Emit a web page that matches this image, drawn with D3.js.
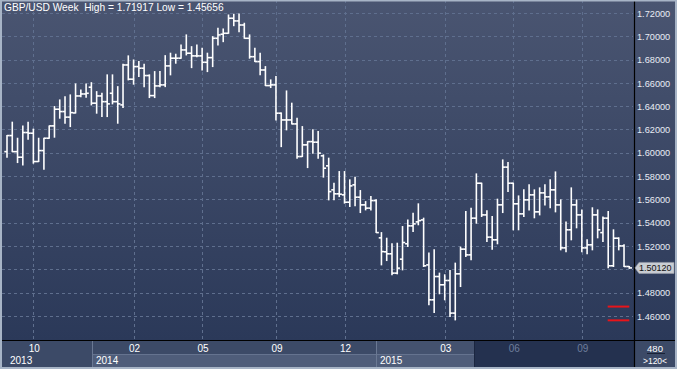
<!DOCTYPE html>
<html><head><meta charset="utf-8">
<script src="https://cdn.jsdelivr.net/npm/d3@7"></script>
<style>body{margin:0;background:#fff}svg{display:block}</style>
</head><body>
<svg id="c" width="677" height="369"></svg>
<script>
const opens=[1.6010,1.6148,1.6010,1.5962,1.6174,1.6168,1.5925,1.6019,1.6125,1.6231,
1.6374,1.6354,1.6306,1.6342,1.6488,1.6505,1.6563,1.6426,1.6488,1.6439,
1.6511,1.6439,1.6411,1.6754,1.6632,1.6740,1.6726,1.6663,1.6491,1.6574,
1.6583,1.6746,1.6812,1.6812,1.6883,1.6855,1.6832,1.6832,1.6777,1.6817,
1.6983,1.7018,1.7026,1.7155,1.7132,1.7097,1.6983,1.6825,1.6783,1.6711,
1.6577,1.6583,1.6340,1.6282,1.6282,1.6248,1.5968,1.6068,1.6096,1.6091,
1.5974,1.5888,1.5682,1.5648,1.5639,1.5576,1.5725,1.5619,1.5553,1.5525,
1.5590,1.5270,1.5150,1.5133,1.4967,1.5087,1.5219,1.5373,1.5407,1.5424,
1.5038,1.4738,1.4938,1.4867,1.4904,1.4624,1.4961,1.5173,1.5124,1.5439,
1.5739,1.5467,1.5276,1.5253,1.5553,1.5877,1.5739,1.5562,1.5476,1.5596,
1.5639,1.5493,1.5656,1.5622,1.5682,1.5553,1.5184,1.5339,1.5553,1.5467,
1.5184,1.5210,1.5467,1.5315,1.5439,1.5030,1.5267,1.5201,1.5024];
const highs=[1.6148,1.6263,1.6125,1.6231,1.6263,1.6203,1.6125,1.6125,1.6231,1.6397,
1.6454,1.6482,1.6497,1.6591,1.6540,1.6591,1.6602,1.6525,1.6511,1.6669,
1.6669,1.6568,1.6760,1.6832,1.6797,1.6783,1.6760,1.6669,1.6697,1.6697,
1.6834,1.6855,1.6846,1.6926,1.7012,1.6911,1.6926,1.6898,1.6855,1.6997,
1.7069,1.7063,1.7183,1.7189,1.71917,1.7112,1.7012,1.6898,1.6855,1.6740,
1.6626,1.6654,1.6342,1.6531,1.6426,1.6297,1.6225,1.6096,1.6197,1.6182,
1.5982,1.5954,1.5739,1.5839,1.5839,1.5768,1.5791,1.5676,1.5581,1.5624,
1.5596,1.5315,1.5267,1.5219,1.5224,1.5367,1.5424,1.5482,1.5562,1.5439,
1.5139,1.5167,1.4967,1.4953,1.4989,1.5053,1.5190,1.5496,1.5525,1.5819,
1.5739,1.5502,1.5453,1.5602,1.5939,1.5916,1.5739,1.5630,1.5682,1.5725,
1.5682,1.5699,1.5725,1.5768,1.5836,1.5596,1.5407,1.5699,1.5596,1.5510,
1.5253,1.5528,1.5510,1.5450,1.5496,1.5339,1.5270,1.5210,1.5024];
const lows=[1.5962,1.6010,1.5916,1.5896,1.6117,1.5911,1.5925,1.5859,1.6125,1.6134,
1.6297,1.6254,1.6225,1.6342,1.6482,1.6477,1.6411,1.6340,1.6311,1.6311,
1.6420,1.6254,1.6388,1.6626,1.6589,1.6654,1.6568,1.6474,1.6474,1.6568,
1.6568,1.6669,1.6769,1.6812,1.6840,1.6731,1.6825,1.6711,1.6697,1.6740,
1.6926,1.6954,1.7026,1.7091,1.7040,1.6983,1.6812,1.6783,1.6669,1.6577,
1.6560,1.6282,1.6053,1.6197,1.6248,1.5954,1.5968,1.5873,1.5997,1.5954,
1.5791,1.5596,1.5596,1.5624,1.5568,1.5539,1.5545,1.5487,1.5510,1.5510,
1.5315,1.5038,1.5075,1.4953,1.4961,1.4995,1.5195,1.5324,1.5382,1.5024,
1.4695,1.4629,1.4790,1.4738,1.4595,1.45656,1.4852,1.5110,1.5081,1.5396,
1.5453,1.5238,1.5173,1.5219,1.5487,1.5667,1.5339,1.5339,1.5453,1.5510,
1.5442,1.5467,1.5553,1.5528,1.5493,1.5167,1.5150,1.5253,1.5356,1.5150,
1.5133,1.5167,1.5270,1.5238,1.5013,1.5024,1.5167,1.5024,1.5008];
const closes=[1.6148,1.6010,1.5962,1.6174,1.6168,1.5925,1.6019,1.6125,1.6231,1.6374,
1.6354,1.6306,1.6345,1.6488,1.6505,1.6511,1.6426,1.6488,1.6439,1.6420,
1.6439,1.6420,1.6754,1.6632,1.6740,1.6726,1.6663,1.6491,1.6574,1.6583,
1.6746,1.6812,1.6812,1.6883,1.6855,1.6832,1.6832,1.6777,1.6817,1.6983,
1.7012,1.7026,1.7155,1.7132,1.7097,1.6983,1.6825,1.6783,1.6711,1.6577,
1.6583,1.6340,1.6282,1.6282,1.6248,1.5968,1.6068,1.6096,1.6091,1.5997,
1.5868,1.5667,1.5648,1.5645,1.5576,1.5716,1.5619,1.5553,1.5525,1.5590,
1.5315,1.5152,1.5133,1.4967,1.5010,1.5230,1.5373,1.5390,1.5418,1.5030,
1.4738,1.4938,1.4867,1.4904,1.4624,1.4961,1.5173,1.5124,1.5439,1.5739,
1.5467,1.5276,1.5253,1.5553,1.5877,1.5739,1.5562,1.5476,1.5596,1.5639,
1.5493,1.5656,1.5622,1.5682,1.5553,1.5184,1.5339,1.5553,1.5467,1.5184,
1.5210,1.5467,1.5339,1.5439,1.5030,1.5267,1.5201,1.5024,1.5012];
const priceTicks=[1.46,1.48,1.50,1.52,1.54,1.56,1.58,1.60,1.62,1.64,1.66,1.68,1.70,1.72];
const monthTickIdx=[5,24,37,51,64,83,96,109];
const monthLabels=["10","02","05","09","12","03","06","09"];
const yearLabels=["2013","2014","2015"];
const yearStartIdx=[-1.2,16.1,70];
const darkFromIdx=88.5;
const redLevels=[1.4680,1.4562];
const titleText="GBP/USD Week  High = 1.71917 Low = 1.45656";
const lastPrice=closes[closes.length-1];

const N=closes.length;
const svg=d3.select("#c");
const W=677,H=369,plotR=634,plotB=340;
const x=d3.scaleLinear().domain([0,N-1]).range([7,629.3]);
const y=d3.scaleLinear().domain([1.46,1.72]).range([315.9,13]);

const defs=svg.append("defs");
const g=defs.append("linearGradient").attr("id","bg").attr("x1",0).attr("y1",0).attr("x2",0).attr("y2",1);
g.append("stop").attr("offset","0%").attr("stop-color","#4a5571");
g.append("stop").attr("offset","100%").attr("stop-color","#2b3959");

svg.append("rect").attr("width",W).attr("height",H).attr("fill","#3c4a67");
svg.append("rect").attr("x",0).attr("y",0).attr("width",W).attr("height",plotB).attr("fill","url(#bg)");

// grid
const grid=svg.append("g").attr("stroke","#5f6f8e").attr("stroke-width",1).attr("stroke-dasharray","3,3");
grid.selectAll("line.h").data(priceTicks).join("line").attr("class","h")
 .attr("x1",2).attr("x2",plotR-1).attr("y1",d=>Math.round(y(d))+0.5).attr("y2",d=>Math.round(y(d))+0.5);
grid.selectAll("line.v").data(monthTickIdx).join("line").attr("class","v")
 .attr("x1",d=>Math.round(x(d))+0.5).attr("x2",d=>Math.round(x(d))+0.5).attr("y1",0).attr("y2",plotB);

// OHLC bars
const tw=2.7;
const bars=d3.range(N).map(i=>({i,o:opens[i],h:highs[i],l:lows[i],c:closes[i]}));
const bg=svg.append("g").attr("stroke","#ffffff").attr("stroke-width",1.6).attr("fill","none");
const b=bg.selectAll("g").data(bars).join("g");
b.append("line").attr("x1",d=>x(d.i)).attr("x2",d=>x(d.i)).attr("y1",d=>y(d.h)-0.5).attr("y2",d=>y(d.l)+0.5);
b.append("line").attr("x1",d=>x(d.i)-tw).attr("x2",d=>x(d.i)).attr("y1",d=>y(d.o)).attr("y2",d=>y(d.o));
b.append("line").attr("x1",d=>x(d.i)).attr("x2",d=>x(d.i)+tw).attr("y1",d=>y(d.c)).attr("y2",d=>y(d.c));

// red levels
svg.append("g").selectAll("line").data(redLevels).join("line")
 .attr("x1",x(113.9)).attr("x2",x(118)).attr("y1",d=>y(d)).attr("y2",d=>y(d))
 .attr("stroke","#e8141a").attr("stroke-width",2);

// bottom panel
const bp=svg.append("g");
bp.append("rect").attr("x",0).attr("y",plotB).attr("width",plotR).attr("height",H-plotB).attr("fill","#3c4a67");
const xs=yearStartIdx.map(v=>Math.max(2,Math.round(x(v))));
const xd=Math.round(x(darkFromIdx));
bp.append("rect").attr("x",xs[1]).attr("y",355).attr("width",xd-xs[1]).attr("height",12).attr("fill","#4f5d7a");
bp.append("rect").attr("x",xs[2]).attr("y",341).attr("width",xd-xs[2]).attr("height",14).attr("fill","#44526f");
bp.append("line").attr("x1",xs[1]).attr("x2",xd).attr("y1",354.5).attr("y2",354.5).attr("stroke","#65738f");
[xs[1],xs[2]].forEach(v=>bp.append("line").attr("x1",v+0.5).attr("x2",v+0.5).attr("y1",341).attr("y2",367).attr("stroke","#6a7893"));
bp.append("rect").attr("x",xd).attr("y",341).attr("width",plotR-xd).attr("height",26).attr("fill","#24314f");
bp.append("line").attr("x1",xd+0.5).attr("x2",xd+0.5).attr("y1",341).attr("y2",367).attr("stroke","#1b2640");

const fnt="'Liberation Sans', Arial, sans-serif";
bp.selectAll("text.m").data(monthTickIdx).join("text").attr("class","m")
 .attr("x",d=>x(d)+1).attr("y",351.5).attr("text-anchor","middle")
 .attr("font-family",fnt).attr("font-size",10)
 .attr("fill",d=>x(d)>xd?"#6e7e9c":"#ffffff")
 .text((d,i)=>monthLabels[i]);
bp.selectAll("text.y").data(yearLabels).join("text").attr("class","y")
 .attr("x",(d,i)=>xs[i]+(i===0?8:4)).attr("y",363.5)
 .attr("font-family",fnt).attr("font-size",10).attr("fill","#ffffff").text(d=>d);

// corner box
const cb=svg.append("g");
cb.append("rect").attr("x",plotR).attr("y",plotB).attr("width",W-plotR).attr("height",H-plotB).attr("fill","#3c4a67");
cb.append("text").attr("x",655).attr("y",351.5).attr("text-anchor","middle").attr("font-family",fnt).attr("font-size",9.5).attr("fill","#ffffff").text("480");
cb.append("line").attr("x1",647).attr("x2",665).attr("y1",353.5).attr("y2",353.5).attr("stroke","#1a2236");
cb.append("text").attr("x",655).attr("y",364).attr("text-anchor","middle").attr("font-family",fnt).attr("font-size",8.5).attr("fill","#ffffff").text(">120<");

// axis separators
svg.append("line").attr("x1",plotR+0.5).attr("x2",plotR+0.5).attr("y1",0).attr("y2",367).attr("stroke","#000").attr("stroke-width",1.2);
svg.append("line").attr("x1",0).attr("x2",W).attr("y1",plotB+0.5).attr("y2",plotB+0.5).attr("stroke","#000").attr("stroke-width",1.2);

// right axis labels
svg.append("g").selectAll("text").data(priceTicks.filter(d=>Math.abs(d-1.50)>1e-9)).join("text")
 .attr("x",637).attr("y",d=>y(d)+3.6).attr("font-family",fnt).attr("font-size",9.2).attr("fill","#e8ecf4")
 .text(d=>d.toFixed(5));

// last price label
const ly=y(lastPrice);
svg.append("path").attr("d",`M${plotR+1},${ly} L${plotR+5},${ly-5.5} L674,${ly-5.5} L674,${ly+5.5} L${plotR+5},${ly+5.5} Z`)
 .attr("fill","#c9cdd3").attr("stroke","#9aa0aa").attr("stroke-width",0.6);
svg.append("text").attr("x",639).attr("y",ly+3.5).attr("font-family",fnt).attr("font-size",9).attr("fill","#111")
 .text(lastPrice.toFixed(5));

// title
svg.append("text").attr("x",4).attr("y",10.5).attr("font-family",fnt).attr("font-size",10.2).attr("fill","#ffffff")
 .attr("xml:space","preserve").text(titleText);

// frame
svg.append("rect").attr("x",1).attr("y",0.5).attr("width",W-2).attr("height",H-1.5).attr("fill","none").attr("stroke","#a7b4c6").attr("stroke-width",2);
</script>
</body></html>
